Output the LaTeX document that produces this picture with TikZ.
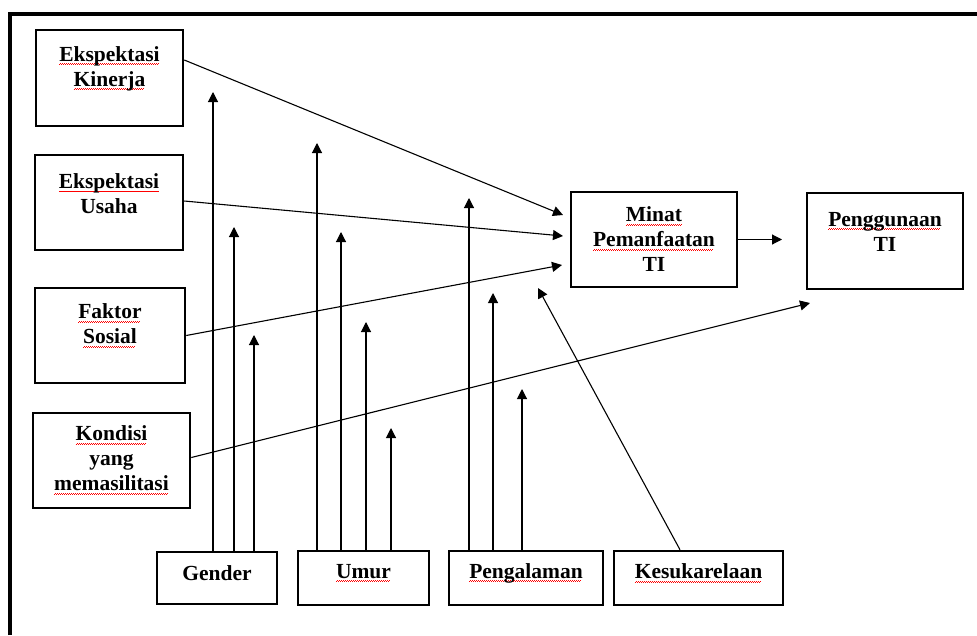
\documentclass[tikz,border=0pt]{standalone}
\usepackage{fontspec}
\setmainfont{Liberation Serif}
\usetikzlibrary{arrows.meta}
\newsavebox\sqbox
\newcommand\sqw[1]{\leavevmode\sbox\sqbox{#1}\rlap{\color{red}\leaders\hbox{\rule[-3.8pt]{1pt}{0.7pt}\rule[-3pt]{1pt}{0.7pt}}\hskip\wd\sqbox}\usebox\sqbox}
\begin{document}
\begin{tikzpicture}[x=1pt,y=-1pt,
  box/.style={draw,line width=2.5pt,inner sep=0pt},
  txt/.style={align=center,font=\fontsize{21.5}{25}\selectfont\bfseries,inner sep=0pt},
  arr/.style={line width=1.1pt,-{Triangle[length=10pt,width=10pt]}}]
\useasboundingbox (0,0) rectangle (977,635);
\fill[white] (0,0) rectangle (977,635);
\draw[line width=3.5pt] (10,635) -- (10,14) -- (977,14);

% left column
\node[box,minimum width=147pt,minimum height=96pt] (kin) at (109.5,78) {};
\node[txt] (kinT) at (109.5,68.5) {\sqw{Ekspektasi}\\\sqw{Kinerja}};
\node[box,minimum width=148pt,minimum height=95pt] (usa) at (109,202.5) {};
\node[txt] (usaT) at (109,193.5) {\sqw{Ekspektasi}\\Usaha};
\node[box,minimum width=150pt,minimum height=95pt] (fak) at (110,335.5) {};
\node[txt] (fakT) at (110,325.5) {\sqw{Faktor}\\\sqw{Sosial}};
\node[box,minimum width=157pt,minimum height=95pt] (kon) at (111.5,460.5) {};
\node[txt] (konT) at (111.5,460) {\sqw{Kondisi}\\yang\\\sqw{memasilitasi}};

% right boxes
\node[box,minimum width=166pt,minimum height=95pt] (min) at (654,239.5) {};
\node[txt] (minT) at (654,239) {\sqw{Minat}\\\sqw{Pemanfaatan}\\TI};
\node[box,minimum width=156pt,minimum height=96pt] (pen) at (885,241) {};
\node[txt] (penT) at (885,231.5) {\sqw{Penggunaan}\\TI};

% bottom boxes
\node[box,minimum width=120pt,minimum height=52pt] (gen) at (217,578) {};
\node[txt] (genT) at (217,573) {Gender};
\node[box,minimum width=131pt,minimum height=54pt] (umu) at (363.5,578) {};
\node[txt] (umuT) at (363.5,573) {\sqw{Umur}};
\node[box,minimum width=154pt,minimum height=54pt] (pgl) at (526,578) {};
\node[txt] (pglT) at (526,573) {\sqw{Pengalaman}};
\node[box,minimum width=169pt,minimum height=54pt] (kes) at (698.5,578) {};
\node[txt] (kesT) at (698.5,573) {\sqw{Kesukarelaan}};

% free arrow ends
\coordinate (m1) at (563,215);
\coordinate (m2) at (563,236);
\coordinate (m3) at (562,265);
\coordinate (p1) at (782,239.5);
\coordinate (pk) at (810,303);
\coordinate (ks) at (538,288);
\coordinate (g1) at (213,92);
\coordinate (g2) at (234,227);
\coordinate (g3) at (254,335);
\coordinate (u1) at (317,143);
\coordinate (u2) at (341,232);
\coordinate (u3) at (366,322);
\coordinate (u4) at (391,428);
\coordinate (e1) at (469,198);
\coordinate (e2) at (493,293);
\coordinate (e3) at (522,389);

% connectors
\draw[arr] ([yshift=18pt]kin.east) -- (m1);
\draw[arr] ([yshift=1.5pt]usa.east) -- (m2);
\draw[arr] (fak.east) -- (m3);
\draw[arr] ([yshift=3pt]kon.east) -- (pk);
\draw[arr] (min.east) -- (p1);
\draw[arr] ([xshift=-18.5pt]kes.north) -- (ks);
\foreach \c in {g1,g2,g3} \draw[arr] (\c |- gen.north) -- (\c);
\foreach \c in {u1,u2,u3,u4} \draw[arr] (\c |- umu.north) -- (\c);
\foreach \c in {e1,e2,e3} \draw[arr] (\c |- pgl.north) -- (\c);
\end{tikzpicture}
\end{document}
